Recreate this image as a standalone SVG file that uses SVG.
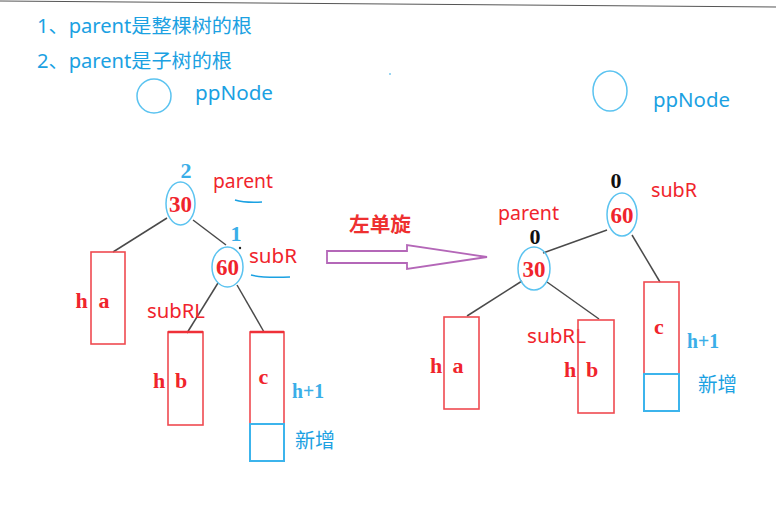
<svg xmlns="http://www.w3.org/2000/svg" width="776" height="529" viewBox="0 0 776 529">
<defs>
<style>
.bg{fill:#ffffff}
.hdr{font-family:"Noto Sans","Noto Sans CJK SC",sans-serif;font-size:19px;fill:#1ba1e2}
.lbl{font-family:"Noto Sans","Noto Sans CJK SC",sans-serif;font-size:20px;fill:#f0242c}
.blue{font-family:"Noto Sans","Noto Sans CJK SC",sans-serif;font-size:20px;fill:#1ba1e2}
.num{font-family:"Liberation Serif",serif;font-weight:bold;font-size:23px;fill:#f0242c;text-anchor:middle}
.bf{font-family:"Liberation Serif",serif;font-weight:bold;font-size:22px;text-anchor:middle}
.ell{fill:none;stroke:#5bc3f0;stroke-width:1.5}
.box{fill:none;stroke:#ef4a50;stroke-width:1.6}
.bbox{fill:none;stroke:#3cb4ec;stroke-width:2}
.edge{stroke:#4a4a4a;stroke-width:1.5;fill:none}
.sq{stroke:#1ba1e2;stroke-width:1.5;fill:none}
</style>
</defs>
<rect class="bg" x="0" y="0" width="776" height="529"/>
<line x1="0" y1="1" x2="776" y2="7" stroke="#555" stroke-width="1"/>

<text class="hdr" x="37" y="33" textLength="215" lengthAdjust="spacingAndGlyphs">1、parent是整棵树的根</text>
<text class="hdr" x="37" y="68" textLength="195" lengthAdjust="spacingAndGlyphs">2、parent是子树的根</text>
<circle cx="390" cy="74" r="0.8" fill="#1ba1e2"/>

<g id="ppNodeL">
<ellipse class="ell" cx="154" cy="96" rx="17" ry="17"/>
<text class="blue" x="195" y="100" textLength="78" lengthAdjust="spacingAndGlyphs">ppNode</text>
</g>
<g id="ppNodeR">
<ellipse class="ell" cx="610" cy="91" rx="17" ry="20"/>
<text class="blue" x="653" y="107" textLength="77" lengthAdjust="spacingAndGlyphs">ppNode</text>
</g>

<g id="connectors">
<line class="edge" x1="167" y1="218" x2="113" y2="252"/>
<line class="edge" x1="193" y1="220" x2="226" y2="245"/>
<circle cx="240" cy="248" r="1.2" fill="#222"/>
<line class="edge" x1="218" y1="283" x2="187" y2="333"/>
<line class="edge" x1="237" y1="285" x2="264" y2="332"/>
<line class="edge" x1="543" y1="253" x2="607" y2="230"/>
<line class="edge" x1="632" y1="235" x2="660" y2="282"/>
<line class="edge" x1="522" y1="281" x2="467" y2="316"/>
<line class="edge" x1="547" y1="282" x2="599" y2="319"/>
<path d="M327 251 L407 251 L407 245 L487 257 L407 269 L407 263 L327 263 Z" fill="#ffffff" stroke="#b467b8" stroke-width="1.8" stroke-linejoin="miter"/>
</g>

<text x="349" y="232" font-family="'Noto Sans CJK SC',sans-serif" font-weight="bold" font-size="20" fill="#ee3030" textLength="62" lengthAdjust="spacingAndGlyphs">左单旋</text>

<!-- Left tree -->
<g id="L30">
<text class="bf" x="186" y="178" fill="#3aaee8">2</text>
<ellipse class="ell" cx="180.5" cy="203.5" rx="14.5" ry="21.5"/>
<text class="num" x="180.5" y="212">30</text>
<text class="lbl" x="213" y="188" textLength="60" lengthAdjust="spacingAndGlyphs">parent</text>
<path class="sq" d="M235 200 Q245 203 262 202"/>
</g>
<g id="L60">
<text class="bf" x="236" y="241" fill="#3aaee8">1</text>
<ellipse class="ell" cx="227.5" cy="267" rx="15.5" ry="20"/>
<text class="num" x="227.5" y="275">60</text>
<text class="lbl" x="249" y="263" textLength="48" lengthAdjust="spacingAndGlyphs">subR</text>
<path class="sq" d="M251 275 Q262 278 290 277"/>
</g>
<g id="La">
<rect class="box" x="91" y="252" width="34" height="92"/>
<text class="bf" x="81.5" y="308" fill="#f0242c">h</text>
<text class="bf" x="104" y="308" fill="#f0242c">a</text>
</g>
<g id="Lb">
<text class="lbl" x="147" y="318" textLength="58" lengthAdjust="spacingAndGlyphs">subRL</text>
<rect class="box" x="168" y="332" width="35" height="93"/>
<line x1="168" y1="332" x2="203" y2="332" stroke="#ef3038" stroke-width="2.5"/>
<text class="bf" x="159" y="388" fill="#f0242c">h</text>
<text class="bf" x="181" y="388" fill="#f0242c">b</text>
</g>
<g id="Lc">
<rect class="box" x="250" y="332" width="34" height="92"/>
<line x1="250" y1="332" x2="284" y2="332" stroke="#ef3038" stroke-width="2.5"/>
<text class="bf" x="263.5" y="384" fill="#f0242c">c</text>
<rect class="bbox" x="250" y="424" width="34" height="37"/>
<text class="bf" x="308" y="398" fill="#3aaee8" textLength="32" lengthAdjust="spacingAndGlyphs">h+1</text>
<text class="blue" x="295" y="448" textLength="40" lengthAdjust="spacingAndGlyphs">新增</text>
</g>

<!-- Right tree -->
<g id="R60">
<text class="bf" x="616" y="188" fill="#111">0</text>
<ellipse class="ell" cx="622" cy="214.5" rx="15" ry="21.5"/>
<text class="num" x="622" y="223">60</text>
<text class="lbl" x="651" y="197" textLength="46" lengthAdjust="spacingAndGlyphs">subR</text>
</g>
<g id="R30">
<text class="bf" x="535" y="244" fill="#111" font-size="19">0</text>
<ellipse class="ell" cx="534" cy="268.5" rx="16" ry="21.5"/>
<text class="num" x="534" y="277">30</text>
<text class="lbl" x="498" y="220" textLength="61" lengthAdjust="spacingAndGlyphs">parent</text>
</g>
<g id="Ra">
<rect class="box" x="444" y="317" width="35" height="92"/>
<text class="bf" x="436" y="373" fill="#f0242c">h</text>
<text class="bf" x="458" y="373" fill="#f0242c">a</text>
</g>
<g id="Rb">
<text class="lbl" x="527" y="343" textLength="59" lengthAdjust="spacingAndGlyphs">subRL</text>
<rect class="box" x="578" y="320" width="36" height="93"/>
<text class="bf" x="570" y="377" fill="#f0242c">h</text>
<text class="bf" x="592" y="377" fill="#f0242c">b</text>
</g>
<g id="Rc">
<rect class="box" x="644" y="282" width="35" height="92"/>
<text class="bf" x="659" y="334" fill="#f0242c">c</text>
<rect class="bbox" x="644" y="374" width="35" height="37"/>
<text class="bf" x="703" y="348" fill="#3aaee8" textLength="32" lengthAdjust="spacingAndGlyphs">h+1</text>
<text class="blue" x="698" y="392" textLength="39" lengthAdjust="spacingAndGlyphs">新增</text>
</g>
</svg>
